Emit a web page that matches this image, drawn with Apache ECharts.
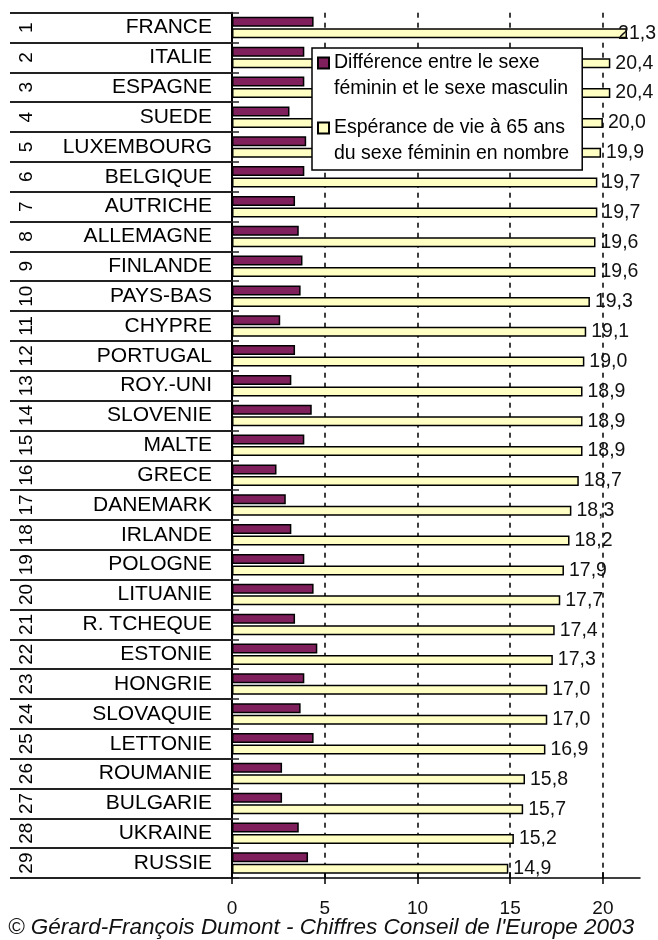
<!DOCTYPE html>
<html>
<head>
<meta charset="utf-8">
<script src="https://cdn.jsdelivr.net/npm/echarts@6/dist/echarts.min.js"></script>
<style>
  html, body { margin: 0; padding: 0; background: #fff; }
  #chart { width: 658px; height: 940px; }
</style>
</head>
<body>
<div id="chart"></div>
<script>
// pays classés par espérance de vie
const countries = ['FRANCE', 'ITALIE', 'ESPAGNE', 'SUEDE', 'LUXEMBOURG', 'BELGIQUE', 'AUTRICHE', 'ALLEMAGNE', 'FINLANDE', 'PAYS-BAS',
  'CHYPRE', 'PORTUGAL', 'ROY.-UNI', 'SLOVENIE', 'MALTE', 'GRECE', 'DANEMARK', 'IRLANDE', 'POLOGNE', 'LITUANIE',
  'R. TCHEQUE', 'ESTONIE', 'HONGRIE', 'SLOVAQUIE', 'LETTONIE', 'ROUMANIE', 'BULGARIE', 'UKRAINE', 'RUSSIE']
const ranks = countries.map((c, i) => String(i + 1))
// différence femmes - hommes
const difference = [4.4, 3.9, 3.9, 3.1, 4.0, 3.9, 3.4, 3.6, 3.8, 3.7,
  2.6, 3.4, 3.2, 4.3, 3.9, 2.4, 2.9, 3.2, 3.9, 4.4,
  3.4, 4.6, 3.9, 3.7, 4.4, 2.7, 2.7, 3.6, 4.1]
// espérance de vie à 65 ans (femmes)
const esperance = [21.3, 20.4, 20.4, 20.0, 19.9, 19.7, 19.7, 19.6, 19.6, 19.3,
  19.1, 19.0, 18.9, 18.9, 18.9, 18.7, 18.3, 18.2, 17.9, 17.7,
  17.4, 17.3, 17.0, 17.0, 16.9, 15.8, 15.7, 15.2, 14.9]
const xTicks = [0, 5, 10, 15, 20]
const seriesNames = ['Différence entre le sexe\nféminin et le sexe masculin', 'Espérance de vie à 65 ans\ndu sexe féminin en nombre']
const footer = '© Gérard-François Dumont - Chiffres Conseil de l\'Europe 2003'

const font = 'Arial, "Liberation Sans", sans-serif'
const W = 658

const myChart = echarts.init(document.getElementById('chart'))
myChart.setOption({
  backgroundColor: '#ffffff',
  animation: false,
  textStyle: { fontFamily: font },
  title: {
    text: footer,
    left: 8,
    top: 916,
    padding: 0,
    textStyle: {
      fontFamily: font,
      fontSize: 22.5,
      fontStyle: 'italic',
      fontWeight: 'normal',
      color: '#111'
    }
  },
  legend: {
    orient: 'vertical',
    left: 312,
    top: 48,
    padding: [2, 13, 3, 5],
    itemGap: 13,
    itemWidth: 11,
    itemHeight: 37,
    icon: 'path://M0,0L11,0L11,11L0,11Z M0,37',
    backgroundColor: '#ffffff',
    borderColor: '#000',
    borderWidth: 1.5,
    textStyle: {
      fontFamily: font,
      fontSize: 19.5,
      lineHeight: 26,
      color: '#000'
    },
    data: seriesNames
  },
  grid: {
    left: 232,
    right: 18,
    top: 12.7,
    bottom: 62,
    containLabel: false,
    outerBoundsMode: 'none'
  },
  xAxis: [
    {
      type: 'value',
      min: 0,
      max: 22,
      interval: 5,
      axisLine: { show: true, lineStyle: { color: '#000', width: 1.5 } },
      axisTick: { show: true, length: 6, customValues: xTicks, lineStyle: { color: '#000', width: 1.5 } },
      axisLabel: {
        customValues: xTicks,
        margin: 21,
        fontFamily: font,
        fontSize: 19,
        color: '#111'
      },
      splitLine: {
        show: true,
        showMinLine: false,
        lineStyle: { color: '#000', width: 1.5, type: [5, 5] }
      }
    },
    {
      type: 'value',
      min: 0,
      max: 22,
      interval: 5,
      position: 'bottom',
      axisLine: { show: false },
      axisTick: { show: true, inside: true, length: 6, customValues: xTicks, lineStyle: { color: '#000', width: 1.5 } },
      axisLabel: { show: false },
      splitLine: { show: false }
    }
  ],
  yAxis: [
    {
      type: 'category',
      data: countries,
      inverse: true,
      axisLine: { show: true, lineStyle: { color: '#000', width: 2 } },
      axisTick: { show: true, length: 222, lineStyle: { color: '#222', width: 2 } },
      axisLabel: {
        interval: 0,
        margin: 20,
        fontFamily: font,
        fontSize: 21,
        color: '#000'
      }
    },
    {
      type: 'category',
      data: countries,
      inverse: true,
      position: 'left',
      axisLine: { show: false },
      axisTick: { show: true, inside: true, length: 7, lineStyle: { color: '#222', width: 1.5 } },
      axisLabel: { show: false }
    },
    {
      type: 'category',
      data: ranks,
      inverse: true,
      position: 'left',
      offset: 196,
      axisLine: { show: false },
      axisTick: { show: false },
      axisLabel: {
        interval: 0,
        rotate: 90,
        margin: 0,
        fontFamily: font,
        fontSize: 19,
        color: '#000'
      }
    }
  ],
  // keep value labels inside the canvas (like 21,3)
  labelLayout: params => {
    const r = params.labelRect
    if (r.x + r.width > W - 2) {
      return { x: W - 2 - r.width, y: r.y, align: 'left', verticalAlign: 'top' }
    }
  },
  series: [
    {
      name: seriesNames[0],
      type: 'bar',
      barWidth: 10,
      barGap: '15%',
      itemStyle: {
        color: '#7f1f5c',
        borderColor: '#000',
        borderWidth: 1.5
      },
      data: difference
    },
    {
      name: seriesNames[1],
      type: 'bar',
      barWidth: 10,
      barGap: '15%',
      itemStyle: {
        color: '#ffffc4',
        borderColor: '#000',
        borderWidth: 1.5
      },
      label: {
        show: true,
        position: 'right',
        distance: 5,
        fontFamily: font,
        fontSize: 19.5,
        color: '#111',
        formatter: p => p.value.toFixed(1).replace('.', ',')
      },
      data: esperance
    }
  ]
})
</script>
</body>
</html>
